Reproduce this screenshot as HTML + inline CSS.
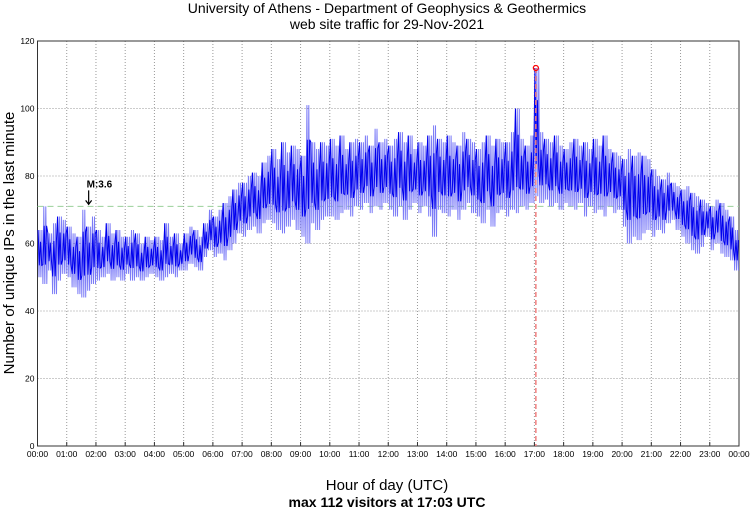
<!DOCTYPE html>
<html><head><meta charset="utf-8"><style>
body{margin:0;background:#fff;}
svg text{font-family:"Liberation Sans",sans-serif;}
</style></head><body>
<svg id="chart" width="750" height="511" xmlns="http://www.w3.org/2000/svg">
<text x="387" y="13" text-anchor="middle" font-size="14">University of Athens - Department of Geophysics &amp; Geothermics</text>
<text x="387" y="29" text-anchor="middle" font-size="14">web site traffic for 29-Nov-2021</text>
<g id="grid"></g>
<g id="axes"></g>
<g id="series"></g>
<text transform="translate(14,243) rotate(-90)" text-anchor="middle" font-size="15">Number of unique IPs in the last minute</text>
<text x="387" y="490" text-anchor="middle" font-size="15">Hour of day (UTC)</text>
<text x="387" y="507" text-anchor="middle" font-size="14" font-weight="bold">max 112 visitors at 17:03 UTC</text>
</svg>
<script>
const yTicks=[0,20,40,60,80,100,120];
const xTickLabels=["00:00","01:00","02:00","03:00","04:00","05:00","06:00","07:00","08:00","09:00","10:00","11:00","12:00","13:00","14:00","15:00","16:00","17:00","18:00","19:00","20:00","21:00","22:00","23:00","00:00"];
const binLows=[50,48,52,45,49,51, 50,47,45,44,46,48, 49,50,51,49,50,49, 51,49,50,49,50,51, 50,49,50,51,50,52, 52,54,53,52,56,58,
56,57,55,58,60,63, 62,64,65,63,66,67, 66,64,63,65,67,64, 62,60,66,64,67,68, 68,67,69,70,68,71, 70,72,69,71,70,72,
70,68,71,67,70,72, 69,71,68,62,70,69, 68,70,67,70,72,69, 68,66,70,65,69,70, 68,70,69,71,70,72, 74,72,73,71,72,70,
72,71,70,72,68,71, 69,70,68,71,69,70, 65,60,62,61,63,64, 62,64,63,66,67,64, 62,60,58,57,59,62, 58,60,57,56,55,52];
const binHighs=[64,71,63,66,68,67, 65,63,62,70,65,68, 64,62,66,63,64,62, 62,64,63,60,62,61, 62,61,66,62,63,60, 63,65,64,62,66,70,
68,70,72,74,76,78, 78,80,81,80,84,86, 88,85,90,87,89,88, 86,101,90,88,90,89, 91,89,92,88,90,91, 90,92,89,94,90,91,
89,91,93,90,92,88, 90,89,92,95,91,90, 92,90,89,93,91,90, 88,90,92,89,91,90, 90,93,100,91,89,92, 112,93,91,90,92,89,
88,90,91,89,90,88, 91,89,92,88,87,86, 85,88,86,87,86,85, 82,80,79,81,78,77, 76,77,75,74,73,72, 71,73,72,70,68,64];
const meanLevel=71;
const peakMinute=1023, peakValue=112;
const markMinute=105, markValue=71, markLabel="M:3.6";

const X0=37.5,X1=739,Y0=446,Y1=41;
const xs=m=>X0+(X1-X0)*m/1440;
const ys=v=>Y0-(Y0-Y1)*v/120;
const NS="http://www.w3.org/2000/svg";
function mk(parent,tag,attrs){const e=document.createElementNS(NS,tag);for(const k in attrs)e.setAttribute(k,attrs[k]);document.getElementById(parent).appendChild(e);return e;}

yTicks.forEach(v=>{
  const g=mk('grid','line',{x1:X0,x2:X1,y1:ys(v),y2:ys(v),stroke:'#999','stroke-dasharray':'1,2'});
  
  
  const t=mk('axes','text',{x:X0-3,y:ys(v)+3,'text-anchor':'end','font-size':'8.5'});
  t.textContent=v;
  
  
});
xTickLabels.forEach((l,i)=>{
  const x=xs(i*60);
  const g=mk('grid','line',{x1:x,x2:x,y1:Y1,y2:Y0,stroke:'#999','stroke-dasharray':'1,2'});
  
  
  const tk=mk('axes','line',{x1:x,x2:x,y1:Y0,y2:Y0-4,stroke:'#333'});
  
  
  const t=mk('axes','text',{x:x,y:Y0+11,'text-anchor':'middle','font-size':'8.5'});
  t.textContent=l;
  
  
});
const fr=mk('axes','rect',{x:X0,y:Y1,width:X1-X0,height:Y0-Y1,fill:'none',stroke:'#333'});



const ml=mk('series','line',{x1:X0,x2:X1,y1:ys(meanLevel),y2:ys(meanLevel),stroke:'#9ad09a','stroke-dasharray':'6,4'});



function zig(frac,step){
  let pts=[];
  binLows.forEach((lo,i)=>{
    const hi=binHighs[i], mid=(lo+hi)/2, half=(hi-lo)/2*frac;
    for(let k=0;k<10;k+=step){
      const up=((k/step)+i)%2===0;
      pts.push([i*10+k+step/2, up?(k===0?hi:mid+half):mid-half]);
    }
  });
  return pts.map((p,i)=>(i?'L':'M')+xs(p[0]).toFixed(1)+','+ys(p[1]).toFixed(1)).join('');
}
const band=mk('series','path',{d:zig(1,2),fill:'none',stroke:'#7b7bf7','stroke-width':'1'});


const inner=mk('series','path',{d:zig(0.5,2.5),fill:'none',stroke:'#0000ee','stroke-width':'1'});



const pl=mk('series','line',{x1:xs(peakMinute),x2:xs(peakMinute),y1:ys(peakValue),y2:Y0,stroke:'#f08080','stroke-width':'1.5','stroke-dasharray':'5,3'});


const pc=mk('series','circle',{cx:xs(peakMinute),cy:ys(peakValue),r:2.5,fill:'none',stroke:'red','stroke-width':'1.2'});



const ax=xs(markMinute);
const ar=mk('series','path',{d:`M${ax},${ys(markValue)-16}L${ax},${ys(markValue)-2}M${ax-3},${ys(markValue)-6}L${ax},${ys(markValue)-2}L${ax+3},${ys(markValue)-6}`,stroke:'#000',fill:'none','stroke-width':'1.2'});


const mt=mk('series','text',{x:ax-2,y:ys(markValue)-19,'font-size':'10','font-weight':'bold'});
mt.textContent=markLabel;


</script>
</body></html>
